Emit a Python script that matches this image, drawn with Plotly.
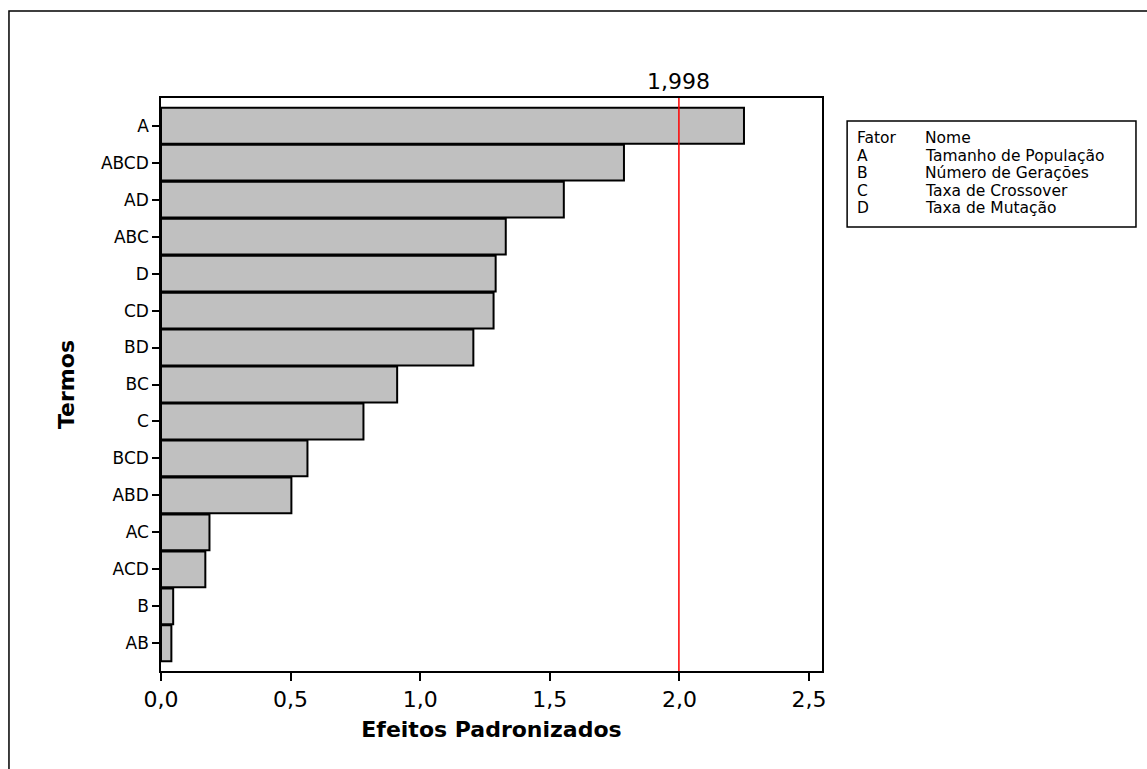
import plotly.graph_objects as go

# Pareto of standardized effects, largest at the top
termos = ["A", "ABCD", "AD", "ABC", "D", "CD", "BD", "BC", "C", "BCD",
          "ABD", "AC", "ACD", "B", "AB"]
efeitos = [2.249, 1.786, 1.554, 1.330, 1.291, 1.283, 1.205, 0.911, 0.781,
           0.565, 0.503, 0.187, 0.171, 0.047, 0.040]
limite = 1.998

fatores = ["A", "B", "C", "D"]
nomes = ["Tamanho de População", "Número de Gerações", "Taxa de Crossover",
         "Taxa de Mutação"]

FONT = "DejaVu Sans"

fig = go.Figure()
fig.add_trace(go.Bar(
    x=efeitos, y=termos, orientation="h",
    width=0.97,
    marker=dict(color="#C0C0C0", line=dict(color="black", width=2)),
    showlegend=False,
))

# reference line at the critical value
fig.add_shape(type="line", xref="x", yref="paper", x0=limite, x1=limite,
              y0=0, y1=1, line=dict(color="red", width=1.5))
fig.add_annotation(x=limite, y=1, xref="x", yref="paper", text="1,998",
                   showarrow=False, yanchor="bottom", yshift=2,
                   font=dict(family=FONT, size=22, color="black"))

# outer frame
fig.add_shape(type="rect", xref="paper", yref="paper",
              x0=-0.230, x1=1.6, y0=-0.25, y1=1.152,
              line=dict(color="black", width=1.5), layer="below")

# factor key box
fig.add_shape(type="rect", xref="paper", yref="paper",
              x0=1.038, x1=1.475, y0=0.775, y1=0.960,
              line=dict(color="black", width=1.5))
linhas = [("Fator", "Nome")] + list(zip(fatores, nomes))
y0 = 0.930
dy = 0.0305
for i, (f, n) in enumerate(linhas):
    yy = y0 - i * dy
    fig.add_annotation(x=1.050, y=yy, xref="paper", yref="paper", text=f,
                       showarrow=False, xanchor="left", yanchor="middle",
                       font=dict(family=FONT, size=15.5, color="black"))
    fig.add_annotation(x=1.153, y=yy, xref="paper", yref="paper", text=n,
                       showarrow=False, xanchor="left", yanchor="middle",
                       font=dict(family=FONT, size=15.5, color="black"))

fig.update_layout(
    width=1147, height=769,
    margin=dict(l=161, r=325, t=98, b=98),
    paper_bgcolor="white", plot_bgcolor="white",
    separators=",.",
    bargap=0.03,
    font=dict(family=FONT, color="black"),
)
fig.update_xaxes(
    range=[0, 2.55], tickvals=[0, 0.5, 1.0, 1.5, 2.0, 2.5], tickformat=".1f",
    ticks="outside", ticklen=8, tickwidth=1.5, tickcolor="black",
    showline=True, linecolor="black", linewidth=1.5, mirror=True,
    showgrid=False, zeroline=False,
    tickfont=dict(family=FONT, size=22),
    title=dict(text="<b>Efeitos Padronizados</b>", standoff=10,
               font=dict(family=FONT, size=22)),
)
fig.update_yaxes(
    categoryorder="array", categoryarray=termos, autorange=False,
    range=[14.75, -0.75],
    ticks="outside", ticklen=7, tickwidth=1.5, tickcolor="black",
    showline=True, linecolor="black", linewidth=1.5, mirror=True,
    showgrid=False, zeroline=False,
    tickfont=dict(family=FONT, size=17),
    title=dict(text="<b>Termos</b>", standoff=20,
               font=dict(family=FONT, size=22)),
)

fig.write_html("out.html")
